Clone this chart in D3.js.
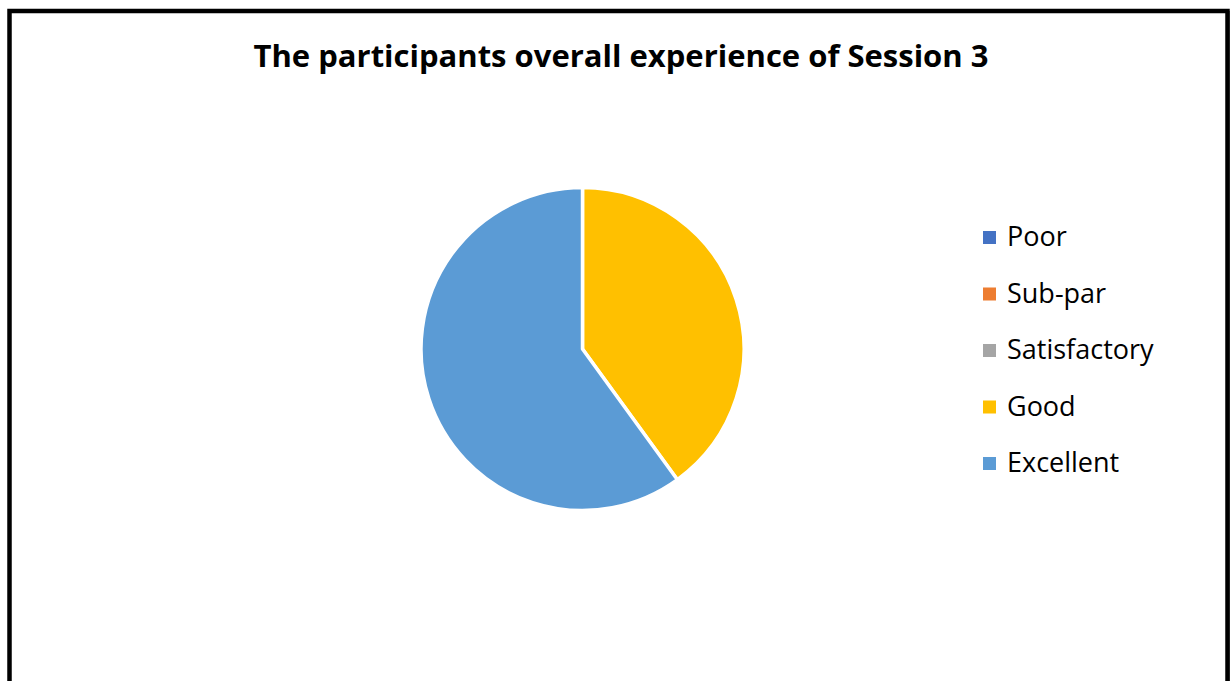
<!DOCTYPE html>
<html lang="en">
	<head>
		<meta charset="utf-8">
		<title>Session 3 experience</title>
		<script type="text/javascript" src="https://cdn.jsdelivr.net/npm/d3@7"></script>
		<style type="text/css">
			body { margin: 0; background: #fff; }
		</style>
	</head>
	<body>
		<script type="text/javascript">
			var w = 1230;
			var h = 681;
			var categories = ["Poor", "Sub-par", "Satisfactory", "Good", "Excellent"];
			var values = [0, 0, 0, 2, 3];
			var colors = ["#4472C4", "#ED7D31", "#A5A5A5", "#FFC000", "#5B9BD5"];
			var title = "The participants overall experience of Session 3";

			var svg = d3.select("body")
						.append("svg")
						.attr("width", w)
						.attr("height", h);

			//chart frame
			svg.append("rect")
				.attr("x", 9.5)
				.attr("y", 11)
				.attr("width", 1218)
				.attr("height", 700)
				.attr("fill", "white")
				.attr("stroke", "black")
				.attr("stroke-width", 4.5);
			svg.append("line")
				.attr("x1", 1228.5).attr("x2", 1228.5)
				.attr("y1", 11).attr("y2", h)
				.attr("stroke", "black")
				.attr("stroke-width", 2);

			//title
			svg.append("text")
				.text(title)
				.attr("x", 621)
				.attr("y", 67)
				.attr("text-anchor", "middle")
				.attr("font-family", "'Open Sans', sans-serif")
				.attr("font-weight", "bold")
				.attr("font-size", "31px")
				.attr("fill", "black");

			//pie
			var color = d3.scaleOrdinal().domain(categories).range(colors);
			var pie = d3.pie().sort(null).value(function(d) { return d.value; });
			var arc = d3.arc().innerRadius(0).outerRadius(161.5);
			var data = categories.map(function(c, i) { return { name: c, value: values[i] }; });

			var g = svg.append("g")
						.attr("transform", "translate(582.5,349)");
			g.selectAll("path")
				.data(pie(data).filter(function(d) { return d.value > 0; }))
				.enter()
				.append("path")
				.attr("d", arc)
				.attr("fill", function(d) { return color(d.data.name); })
				.attr("stroke", "white")
				.attr("stroke-width", 3.5)
				.attr("stroke-linejoin", "round");

			//legend
			var legend = svg.selectAll("g.legend")
							.data(categories)
							.enter()
							.append("g")
							.attr("class", "legend")
							.attr("transform", function(d, i) {
								return "translate(983," + (231 + i * 56.5) + ")";
							});
			legend.append("rect")
				.attr("width", 13)
				.attr("height", 13)
				.attr("fill", function(d) { return color(d); });
			legend.append("text")
				.text(function(d) { return d; })
				.attr("x", 24)
				.attr("y", 15)
				.attr("font-family", "'Open Sans', sans-serif")
				.attr("font-size", "27px")
				.attr("fill", "black");
		</script>
	</body>
</html>
